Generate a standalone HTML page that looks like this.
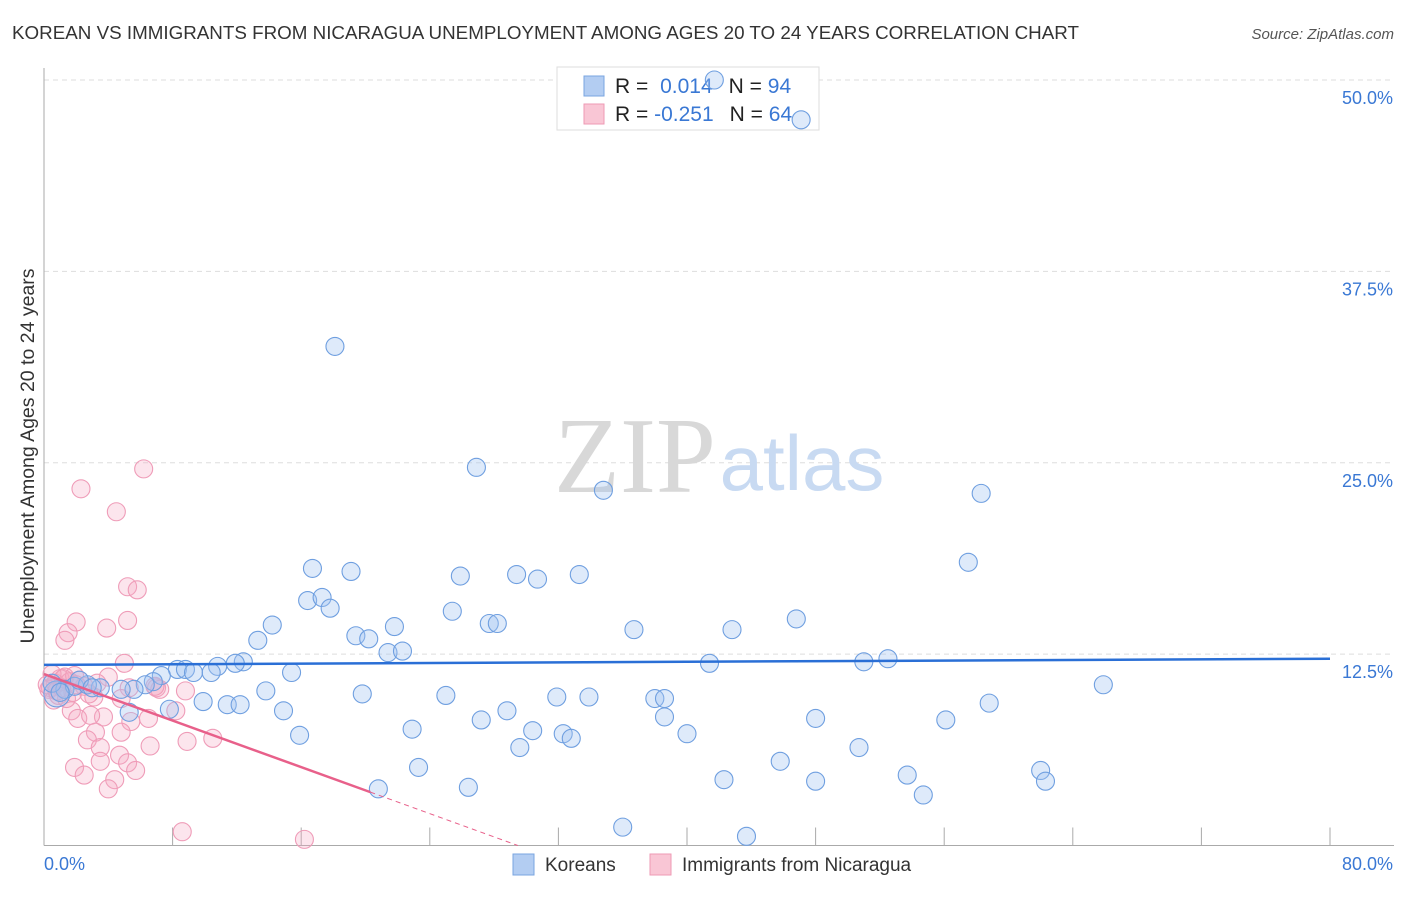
<!DOCTYPE html>
<html><head><meta charset="utf-8"><style>
body{margin:0;background:#fff;font-family:"Liberation Sans",sans-serif;}
svg text{font-family:"Liberation Sans",sans-serif;}
</style></head><body>
<svg width="1406" height="892" viewBox="0 0 1406 892" xmlns="http://www.w3.org/2000/svg">
<text x="12" y="39" font-size="18" fill="#333" textLength="1067" lengthAdjust="spacingAndGlyphs">KOREAN VS IMMIGRANTS FROM NICARAGUA UNEMPLOYMENT AMONG AGES 20 TO 24 YEARS CORRELATION CHART</text>
<text x="1394" y="39" font-size="15" fill="#555" font-style="italic" text-anchor="end">Source: ZipAtlas.com</text>
<g id="grid"></g>
<text x="635" y="492" font-size="108" fill="#d8d8d8" text-anchor="middle" style="font-family:'Liberation Serif',serif">ZIP</text>
<text x="802" y="490" font-size="78" fill="#c8daf2" text-anchor="middle">atlas</text>
<g id="axes"></g>
<g>
<rect x="557" y="67" width="262" height="63" fill="#fff" stroke="#ddd"/>
<rect x="584" y="76" width="20" height="20" fill="#b3cdf2" stroke="#7aa5e0"/>
<rect x="584" y="104" width="20" height="20" fill="#f9c6d5" stroke="#ee9ab4"/>
<text x="615" y="93" font-size="21" fill="#222">R = <tspan fill="#3a78d4" dx="6">0.014</tspan><tspan dx="16" fill="#222">N = </tspan><tspan fill="#3a78d4">94</tspan></text>
<text x="615" y="121" font-size="21" fill="#222">R = <tspan fill="#3a78d4">-0.251</tspan><tspan dx="16" fill="#222">N = </tspan><tspan fill="#3a78d4">64</tspan></text>
</g>
<g id="pts"></g>
<g id="trend"></g>
<text transform="translate(34,456) rotate(-90)" font-size="19.5" fill="#333" text-anchor="middle">Unemployment Among Ages 20 to 24 years</text>
<g>
<rect x="513" y="854" width="21" height="21" fill="#b3cdf2" stroke="#7aa5e0"/>
<text x="545" y="871" font-size="19" fill="#333">Koreans</text>
<rect x="650" y="854" width="21" height="21" fill="#f9c6d5" stroke="#ee9ab4"/>
<text x="682" y="871" font-size="19" fill="#333">Immigrants from Nicaragua</text>
</g>
</svg>
<script>
const yTicks=[12.5,25,37.5,50];
const yTickLabels=["12.5%","25.0%","37.5%","50.0%"];
const xTickVals=[0,8,16,24,32,40,48,56,64,72,80];
const koreanX=[18.1,26.9,34.8,58.3,57.5,16.7,19.1,25.9,29.4,30.7,33.3,16.4,17.3,17.8,25.4,14.2,27.7,28.2,46.8,13.3,19.4,20.2,21.8,36.7,42.8,21.4,22.3,12.4,11.9,10.8,15.4,8.3,8.8,9.3,10.4,7.3,6.8,6.3,5.6,4.8,3.5,41.4,51.0,52.5,65.9,13.8,19.8,25.0,31.9,33.9,38.0,38.6,9.9,11.4,12.2,7.8,5.3,14.9,28.8,27.2,38.6,48.0,56.1,58.8,22.9,30.4,15.9,32.3,32.8,40.0,29.6,50.7,45.8,23.3,62.0,53.7,42.3,48.0,62.3,20.8,26.4,54.7,36.0,43.7,41.7,47.1,0.8,1.3,1.9,2.7,0.5,2.2,1.0,3.0];
const koreanY=[32.6,24.7,23.2,23.0,18.5,18.1,17.9,17.6,17.7,17.4,17.7,16.0,16.2,15.5,15.3,14.4,14.5,14.5,14.8,13.4,13.7,13.5,14.3,14.1,14.1,12.6,12.7,12.0,11.9,11.7,11.3,11.5,11.5,11.3,11.3,11.1,10.7,10.5,10.2,10.2,10.3,11.9,12.0,12.2,10.5,10.1,9.9,9.8,9.7,9.7,9.6,9.6,9.4,9.2,9.2,8.9,8.7,8.8,8.8,8.2,8.4,8.3,8.2,9.3,7.6,7.5,7.2,7.3,7.0,7.3,6.4,6.4,5.5,5.1,4.9,4.6,4.3,4.2,4.2,3.7,3.8,3.3,1.2,0.6,50.0,47.4,9.9,10.2,10.4,10.5,10.6,10.8,10.0,10.3];
const nicX=[6.2,2.3,4.5,5.2,5.8,2.0,1.5,1.3,5.2,3.9,5.0,4.0,8.8,7.0,5.3,7.2,3.1,4.8,1.7,2.1,3.7,2.9,8.2,6.5,5.4,10.5,8.9,4.8,3.2,2.7,3.5,6.6,4.7,1.9,3.5,5.2,5.7,2.5,4.4,4.0,8.6,16.2,6.9,0.4,0.7,1.0,1.3,1.6,0.3,0.9,1.1,1.9,2.5,0.6,1.4,0.2,1.8,2.2,3.3,0.5,1.2,2.0,2.8,0.8];
const nicY=[24.6,23.3,21.8,16.9,16.7,14.6,13.9,13.4,14.7,14.2,11.9,11.0,10.1,10.3,10.3,10.2,9.7,9.6,8.8,8.3,8.4,8.5,8.8,8.3,8.1,7.0,6.8,7.4,7.4,6.9,6.4,6.5,5.9,5.1,5.5,5.4,4.9,4.6,4.3,3.7,0.9,0.4,10.4,10.3,10.6,10.9,11.0,10.7,10.2,9.8,10.3,11.1,10.4,9.5,9.6,10.5,10.0,10.8,10.6,11.2,10.9,10.5,9.9,10.1];
const koreanTrend=[11.8,12.2];
const nicTrend=[11.2,-0.38];
const NS="http://www.w3.org/2000/svg";
const X0=44,X1=1330,Y0=845.5,Ytop=80;
function xs(v){return X0+(v/80)*(X1-X0);}
function ys(v){return Y0-(v/50)*(Y0-Ytop);}
function mk(tag,at,parent){const e=document.createElementNS(NS,tag);for(const k in at)e.setAttribute(k,at[k]);parent.appendChild(e);return e;}
const grid=document.getElementById('grid'),axes=document.getElementById('axes'),pts=document.getElementById('pts'),tr=document.getElementById('trend');
yTicks.forEach((t,i)=>{
 const l=mk('line',{x1:X0,x2:1394,y1:ys(t),y2:ys(t),stroke:'#ddd','stroke-dasharray':'5,4'},grid);
 
 
 const tx=mk('text',{x:1393,y:ys(t)+24,'font-size':18,fill:'#3a78d4','text-anchor':'end'},axes);
 tx.textContent=yTickLabels[i];
 
 
});
const ax=mk('line',{x1:X0,x2:X0,y1:68,y2:Y0,stroke:'#aaa'},axes);


const bx=mk('line',{x1:X0,x2:1394,y1:Y0,y2:Y0,stroke:'#aaa'},axes);


xTickVals.forEach(v=>{
 if(v===0)return;
 const t=mk('line',{x1:xs(v),x2:xs(v),y1:Y0-18,y2:Y0,stroke:'#aaa'},axes);
 
 
});
const xl0=mk('text',{x:44,y:870,'font-size':18,fill:'#3a78d4'},axes);xl0.textContent='0.0%';


const xl1=mk('text',{x:1393,y:870,'font-size':18,fill:'#3a78d4','text-anchor':'end'},axes);xl1.textContent='80.0%';


nicX.forEach((v,i)=>{
 const c=mk('circle',{cx:xs(v),cy:ys(nicY[i]),r:9,fill:'rgba(244,170,195,0.3)',stroke:'#ef9cb8','stroke-width':1.1},pts);
 
 
});
koreanX.forEach((v,i)=>{
 const c=mk('circle',{cx:xs(v),cy:ys(koreanY[i]),r:i===86?13:9,fill:'rgba(160,195,240,0.35)',stroke:'#6f9fe0','stroke-width':1.1},pts);
 
 
});
const kl=mk('line',{x1:xs(0),y1:ys(koreanTrend[0]),x2:xs(80),y2:ys(koreanTrend[1]),stroke:'#2a6fd6','stroke-width':2.5},tr);


const nEnd=20.3,nZero=-nicTrend[0]/nicTrend[1];
const nl=mk('line',{x1:xs(0),y1:ys(nicTrend[0]),x2:xs(nEnd),y2:ys(nicTrend[0]+nicTrend[1]*nEnd),stroke:'#e8608a','stroke-width':2.5},tr);


const nd=mk('line',{x1:xs(nEnd),y1:ys(nicTrend[0]+nicTrend[1]*nEnd),x2:xs(nZero),y2:ys(0),stroke:'#e8608a','stroke-width':1,'stroke-dasharray':'5,4'},tr);


</script>
</body></html>
